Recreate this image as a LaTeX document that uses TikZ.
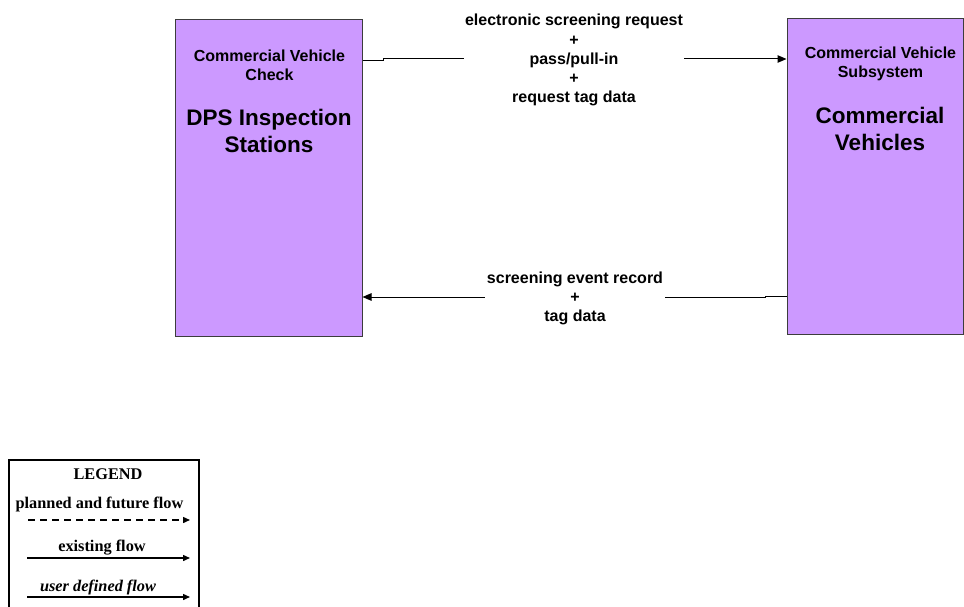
\documentclass[tikz,border=0pt]{standalone}
\usepackage{fontspec}
\setmainfont{Liberation Sans}
\newfontfamily\tms{Liberation Serif}
\usetikzlibrary{arrows.meta}
\definecolor{boxfill}{RGB}{204,153,255}
\definecolor{boxline}{RGB}{60,60,60}
\tikzset{
  sysbox/.style={draw=boxline, line width=1pt, fill=boxfill, inner sep=0pt},
  small/.style={font=\bfseries\fontsize{16}{19}\selectfont, align=center, inner sep=0pt},
  big/.style={font=\bfseries\fontsize{22.5}{27}\selectfont, align=center, inner sep=0pt},
  lbl/.style={font=\bfseries\fontsize{16}{19.2}\selectfont, align=center, fill=white, inner xsep=1.5pt, inner ysep=1pt},
  flow/.style={line width=1pt, -{Triangle[length=9pt,width=7.5pt]}},
  legflow/.style={line width=1.4pt, -{Triangle[length=7pt,width=6pt]}},
  leg/.style={font=\tms\bfseries\fontsize{16.3}{18}\selectfont, inner sep=0pt},
}
\begin{document}
\begin{tikzpicture}[x=1pt,y=-1pt]
\useasboundingbox (0,0) rectangle (964,607);
% boxes
\node[sysbox, minimum width=187pt, minimum height=316pt] (dps) at (268.5,178) {};
\node[sysbox, minimum width=176pt, minimum height=315pt] (cv) at (875,176.5) {};
% box texts
\node[small] (dpsa) at (269.5,65) {Commercial Vehicle\\Check};
\node[big] (dpsb) at (269,131) {DPS Inspection\\Stations};
\node[small] (cva) at (880.5,64) {Commercial Vehicle\\Subsystem};
\node[big] (cvb) at (880,129) {Commercial\\Vehicles};
% connectors
\coordinate (ya) at (0,61);
\coordinate (yb) at (0,59);
\draw[flow] (dps.east |- ya) -- (383,61) -- (383,59) -- (cv.west |- yb);
\node[lbl] (la) at (574,60.2) {electronic screening request\\+\\pass/pull-in\\+\\request tag data};
\coordinate (yc) at (0,296);
\coordinate (yd) at (0,297);
\draw[flow] (cv.west |- yc) -- (765,296) -- (765,297) -- (dps.east |- yd);
\node[lbl] (lb) at (575,298.5) {screening event record\\+\\tag data};
% legend
\draw[line width=1.2pt] (9,610) -- (9,460) -- (199,460) -- (199,610);
\node[leg] (lg) at (108,474.5) {LEGEND};
\node[leg] (lp) at (99.5,504.5) {planned and future flow};
\coordinate (pa) at (28,520);
\coordinate (pb) at (190,520);
\draw[legflow, dash pattern=on 7pt off 5pt] (pa) -- (pb);
\node[leg] (le) at (102,547.5) {existing flow};
\coordinate (ea) at (27,558);
\coordinate (eb) at (190,558);
\draw[legflow] (ea) -- (eb);
\node[leg, font=\tms\bfseries\itshape\fontsize{16.3}{18}\selectfont] (lu) at (98,587.5) {user defined flow};
\coordinate (ua) at (27,597);
\coordinate (ub) at (190,597);
\draw[legflow] (ua) -- (ub);
\end{tikzpicture}
\end{document}
